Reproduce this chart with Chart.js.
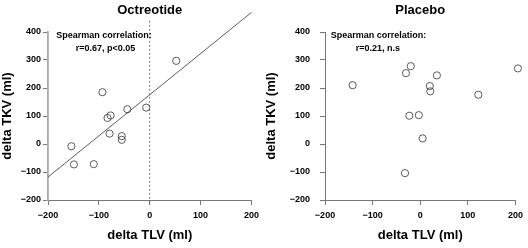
<!DOCTYPE html>
<html lang="en">
<head>
<meta charset="UTF-8">
<title>delta TKV vs delta TLV</title>
<style>
  body { margin: 0; background: #fff; }
  .wrap { position: relative; width: 528px; height: 248px; }
  .panel { position: absolute; top: 0; width: 264px; height: 248px; }
</style>
</head>
<body>
<div class="wrap">
  <div class="panel" style="left:0"><canvas id="octreotide" width="264" height="248"></canvas></div>
  <div class="panel" style="left:264px"><canvas id="placebo" width="264" height="248"></canvas></div>
</div>

<script src="https://cdn.jsdelivr.net/npm/chart.js"></script>
<script>
// Octreotide group: change in liver volume vs change in kidney volume (ml)
const octTLV = [52, -93, -44, -7, -77, -83, -154, -79, -55, -55, -149, -110];
const octTKV = [297, 185, 124, 130, 102, 93, -8, 37, 28, 15, -73, -72];
// regression line end points
const octFitTLV = [-200, 200];
const octFitTKV = [-118, 470];
// dotted reference line at delta TLV = 0
const zeroTLV = [0, 0];
const zeroTKV = [-210, 440];

// Placebo group
const plaTLV = [-142, -30, -20, 35, 20, 21, 205, 122, -23, -3, 5, -32];
const plaTKV = [210, 253, 278, 245, 207, 188, 270, 176, 101, 103, 20, -104];

const xTicks = [-200, -100, 0, 100, 200];
const yTicks = [-200, -100, 0, 100, 200, 300, 400];

const FONT = '"Liberation Sans", Arial, Helvetica, sans-serif';

function pts(xs, ys) {
  return xs.map((x, i) => ({ x: x, y: ys[i] }));
}

function fmt(v) {
  return v < 0 ? '\u2212' + Math.abs(v) : String(v);
}

// text notes placed in data units
const notesPlugin = {
  id: 'notes',
  afterDatasetsDraw(chart, args, opts) {
    const ctx = chart.ctx;
    const xs = chart.scales.x, ys = chart.scales.y;
    ctx.save();
    ctx.fillStyle = '#000';
    ctx.font = 'bold 9px ' + FONT;
    ctx.textBaseline = 'middle';
    (opts.items || []).forEach(n => {
      ctx.textAlign = n.align;
      ctx.fillText(n.text, xs.getPixelForValue(n.x), ys.getPixelForValue(n.y));
    });
    ctx.restore();
  }
};

function makeChart(id, title, datasets, axisWidth, padRight, yPad, yBorder, notes) {
  return new Chart(document.getElementById(id), {
    type: 'scatter',
    data: { datasets: datasets },
    options: {
      responsive: false,
      animation: false,
      events: [],
      layout: { padding: { left: 0, right: padRight, top: 0, bottom: 0 } },
      plugins: {
        legend: { display: false },
        tooltip: { enabled: false },
        title: {
          display: true,
          text: title,
          fullSize: false,
          color: '#000',
          font: { family: FONT, size: 13, weight: 'bold' },
          padding: { top: 3, bottom: 13.4 }
        },
        notes: { items: notes }
      },
      scales: {
        x: {
          type: 'linear',
          min: -200, max: 200,
          afterBuildTicks: s => { s.ticks = xTicks.map(v => ({ value: v })); },
          afterFit: s => { s.height = 48; },
          grid: { drawOnChartArea: false, drawTicks: true, tickLength: 5, color: '#777' },
          border: { display: true, color: '#777', width: 1 },
          ticks: {
            color: '#000', padding: 5, maxRotation: 0,
            font: { family: FONT, size: 9, weight: 'bold' },
            callback: v => fmt(v)
          },
          title: {
            display: true, text: 'delta TLV (ml)', color: '#000',
            font: { family: FONT, size: 13, weight: 'bold' },
            padding: { top: 0, bottom: 5 }
          }
        },
        y: {
          type: 'linear',
          min: -200, max: 400,
          afterBuildTicks: s => { s.ticks = yTicks.map(v => ({ value: v })); },
          afterFit: s => { s.width = axisWidth; },
          grid: { drawOnChartArea: false, drawTicks: true, tickLength: 5, color: '#777' },
          border: { display: true, color: yBorder.color, width: yBorder.width },
          ticks: {
            color: '#000', padding: yPad,
            font: { family: FONT, size: 9, weight: 'bold' },
            callback: v => fmt(v)
          },
          title: {
            display: true, text: 'delta TKV (ml)', color: '#000',
            font: { family: FONT, size: 13, weight: 'bold' },
            padding: { top: 0, bottom: 0 }
          }
        }
      }
    },
    plugins: [notesPlugin]
  });
}

function pointSet(xs, ys) {
  return {
    data: pts(xs, ys),
    pointRadius: 3.6,
    pointBorderWidth: 0.8,
    pointBorderColor: '#333',
    pointBackgroundColor: 'rgba(0,0,0,0)',
    clip: false
  };
}

makeChart('octreotide', 'Octreotide', [
  pointSet(octTLV, octTKV),
  {
    data: pts(octFitTLV, octFitTKV),
    showLine: true, pointRadius: 0,
    borderColor: '#333', borderWidth: 0.8, clip: false
  },
  {
    data: pts(zeroTLV, zeroTKV),
    showLine: true, pointRadius: 0,
    borderColor: '#555', borderWidth: 0.8, borderDash: [2, 2], clip: false
  }
], 48, 11, 2, { color: '#aaa', width: 1.8 }, [
  { text: 'Spearman correlation:', x: -184, y: 389, align: 'left' },
  { text: 'r=0.67, p<0.05', x: -87, y: 341, align: 'center' }
]);

makeChart('placebo', 'Placebo', [
  pointSet(plaTLV, plaTKV)
], 61, 8, 10, { color: '#777', width: 1 }, [
  { text: 'Spearman correlation:', x: -188, y: 389, align: 'left' },
  { text: 'r=0.21, n.s', x: -89, y: 341, align: 'center' }
]);
</script>
</body>
</html>
